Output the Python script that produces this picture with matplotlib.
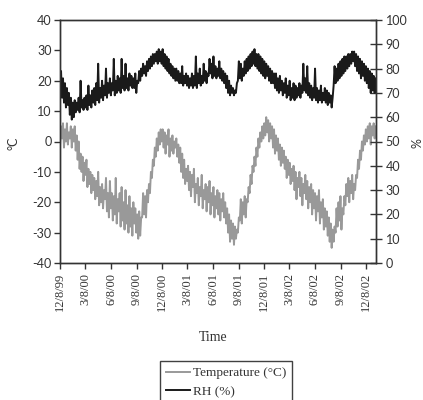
import numpy as np
import matplotlib
matplotlib.use("Agg")
import matplotlib.pyplot as plt
import matplotlib.dates as mdate

# weekly readings starting 8 Dec 1999 (low and high of each week)
START = np.datetime64("1999-12-08")

temp_lo = [-1, 1, -2, 0, -1, 1, -2, 0, -3, -6, -9, -10, -13, -11, -15, -14, -17, -16, -19, -18,
           -21, -20, -22, -19, -23, -25, -22, -26, -24, -27, -23, -28, -26, -29, -27, -30, -28, -31, -27, -30,
           -32, -31, -25, -24, -25, -20, -17, -12, -8, -5, -3, -1, 0, -2, -4, -1, -5, -3, -4, -2,
           -5, -7, -10, -12, -14, -13, -16, -18, -15, -20, -17, -21, -18, -22, -19, -23, -20, -24, -21, -25,
           -22, -24, -26, -23, -25, -27, -30, -33, -32, -34, -32, -30, -26, -27, -24, -25, -20, -17, -14, -10,
           -8, -5, -2, 0, 1, 2, 3, 0, 1, -2, -4, -3, -6, -8, -7, -9, -12, -11, -14, -13,
           -16, -19, -15, -18, -21, -17, -19, -22, -20, -24, -22, -26, -23, -27, -25, -29, -28, -31, -33, -35,
           -33, -30, -28, -26, -29, -24, -21, -18, -20, -17, -19, -16, -12, -9, -6, -3, -1, 0, 1, -1,
           2, 1]
temp_hi = [5, 6, 4, 6, 3, 5, 4, 5, 2, 0, -4, -5, -7, -6, -9, -10, -11, -12, -13, -10,
           -15, -14, -16, -12, -17, -13, -17, -18, -12, -19, -17, -15, -20, -16, -21, -18, -22, -20, -22, -24,
           -23, -25, -17, -18, -16, -14, -10, -6, -2, 1, 3, 4, 4, 3, 2, 4, 1, 2, 0, 1,
           -1, -2, -4, -6, -9, -8, -10, -11, -9, -14, -12, -15, -11, -16, -14, -15, -13, -17, -15, -18,
           -16, -17, -19, -17, -20, -22, -24, -26, -27, -28, -29, -25, -19, -20, -18, -19, -15, -11, -8, -5,
           -2, 1, 3, 5, 6, 8, 7, 6, 5, 4, 2, 1, -1, -2, -3, -5, -6, -7, -9, -8,
           -10, -12, -10, -12, -14, -11, -13, -15, -14, -16, -17, -18, -16, -20, -19, -22, -23, -25, -27, -29,
           -28, -22, -20, -18, -22, -18, -14, -12, -13, -11, -14, -11, -6, -3, 0, 2, 4, 5, 6, 5,
           6, 5]

rh_lo = [72, 68, 66, 64, 65, 61, 59, 60, 62, 63, 62, 64, 63, 64, 63, 65, 64, 66, 65, 67,
         66, 68, 67, 69, 68, 70, 69, 71, 69, 70, 71, 70, 72, 71, 72, 71, 73, 72, 72, 70,
         74, 75, 77, 78, 77, 79, 80, 81, 82, 83, 82, 83, 82, 81, 80, 79, 78, 77, 76, 75,
         75, 74, 74, 73, 74, 73, 72, 73, 72, 73, 72, 74, 73, 74, 75, 74, 77, 78, 76, 77,
         76, 77, 76, 75, 74, 72, 70, 69, 70, 69, 70, 75, 76, 75, 77, 78, 79, 80, 81, 82,
         81, 80, 79, 78, 77, 76, 77, 75, 74, 74, 72, 71, 70, 71, 69, 70, 68, 69, 67, 68,
         67, 68, 69, 68, 70, 71, 70, 69, 68, 67, 68, 67, 66, 67, 66, 67, 66, 65, 66, 64,
         73, 74, 75, 76, 77, 78, 79, 80, 81, 82, 83, 81, 79, 78, 76, 77, 75, 74, 72, 70,
         71, 70]
rh_hi = [79, 76, 74, 72, 70, 68, 66, 67, 66, 68, 75, 67, 68, 69, 73, 69, 71, 72, 74, 82,
         72, 75, 73, 80, 74, 76, 74, 84, 75, 77, 76, 84, 77, 82, 76, 78, 77, 76, 78, 75,
         79, 80, 82, 81, 83, 84, 85, 86, 86, 87, 88, 87, 88, 86, 85, 84, 82, 81, 80, 80,
         79, 78, 81, 77, 78, 77, 76, 78, 77, 85, 78, 80, 77, 82, 79, 78, 84, 82, 85, 81,
         80, 83, 80, 79, 78, 77, 75, 73, 72, 71, 74, 83, 82, 80, 83, 84, 85, 86, 87, 88,
         86, 86, 85, 84, 83, 82, 81, 80, 79, 78, 78, 76, 77, 75, 74, 76, 73, 75, 72, 74,
         73, 72, 74, 73, 82, 76, 81, 74, 73, 72, 80, 72, 71, 73, 70, 72, 71, 70, 69, 68,
         81, 80, 82, 83, 84, 85, 85, 86, 86, 87, 87, 86, 85, 84, 83, 82, 81, 80, 79, 78,
         77, 76]

tick_dates = ["1999-12-08", "2000-03-08", "2000-06-08", "2000-09-08", "2000-12-08",
              "2001-03-08", "2001-06-08", "2001-09-08", "2001-12-08", "2002-03-08",
              "2002-06-08", "2002-09-08", "2002-12-08"]
tick_labels = ["12/8/99", "3/8/00", "6/8/00", "9/8/00", "12/8/00", "3/8/01", "6/8/01",
               "9/8/01", "12/8/01", "3/8/02", "6/8/02", "9/8/02", "12/8/02"]


def half_weeks(lo, hi):
    # interleave weekly low/high readings, half a week apart
    n = len(lo)
    t = START + np.arange(2 * n) * np.timedelta64(84, "h")
    v = np.empty(2 * n)
    v[0::2] = lo
    v[1::2] = hi
    return t.astype("datetime64[m]").astype(object), v


def main():
    plt.rcParams["axes.unicode_minus"] = False
    serif = "Liberation Serif"
    sans = "Lato"
    edge = "#333333"

    fig = plt.figure(figsize=(4.23, 4.0), dpi=100)
    ax = fig.add_axes([0.142, 0.3425, 0.747, 0.6075])
    ax2 = ax.twinx()

    t_temp, v_temp = half_weeks(temp_lo, temp_hi)
    t_rh, v_rh = half_weeks(rh_lo, rh_hi)

    l1, = ax.plot(t_temp, v_temp, color="#999999", linewidth=1.4, label="Temperature (\u00b0C)")
    l2, = ax2.plot(t_rh, v_rh, color="#1a1a1a", linewidth=1.4, label="RH (%)")

    ax.set_ylim(-40, 40)
    ax2.set_ylim(0, 100)
    ax.set_yticks(range(-40, 41, 10))
    ax2.set_yticks(range(0, 101, 10))

    ticks = [mdate.date2num(np.datetime64(d).astype(object)) for d in tick_dates]
    ax.set_xticks(ticks)
    ax.set_xticklabels(tick_labels, rotation=90, family=serif, fontsize=9, color=edge)
    ax.set_xlim(mdate.date2num(np.datetime64("1999-12-08").astype(object)),
                mdate.date2num(np.datetime64("2003-01-13").astype(object)))

    for a in (ax, ax2):
        for s in a.spines.values():
            s.set_color(edge)
            s.set_linewidth(1.0)
    ax.tick_params(axis="y", direction="out", length=4, width=1, color=edge, pad=2)
    ax.tick_params(axis="x", direction="out", length=4, width=1, color=edge, pad=3)
    ax2.tick_params(axis="y", direction="inout", length=8, width=1, color=edge, pad=3)
    for lab in ax.get_yticklabels() + ax2.get_yticklabels():
        lab.set_family(sans)
        lab.set_fontsize(9)
        lab.set_color(edge)

    fig.text(0.031, 0.6425, "\u00b0C", rotation=90, ha="center", va="center",
             family=sans, fontsize=9, color=edge)
    fig.text(0.988, 0.6425, "%", rotation=90, ha="center", va="center",
             family=sans, fontsize=9, color=edge)
    fig.text(0.504, 0.157, "Time", ha="center", va="center", family=serif, fontsize=10, color=edge)

    leg = fig.legend([l1, l2], [l1.get_label(), l2.get_label()], loc="upper left",
                     bbox_to_anchor=(0.378, 0.0975), borderaxespad=0, frameon=True,
                     fancybox=False, prop={"family": serif, "size": 9.5},
                     handlelength=1.8, handletextpad=0.25, labelspacing=0.5,
                     borderpad=0.45)
    leg.get_frame().set_edgecolor("#111111")
    leg.get_frame().set_linewidth(1.0)
    for txt in leg.get_texts():
        txt.set_color(edge)

    fig.savefig("out.png", dpi=100)


if __name__ == "__main__":
    main()
